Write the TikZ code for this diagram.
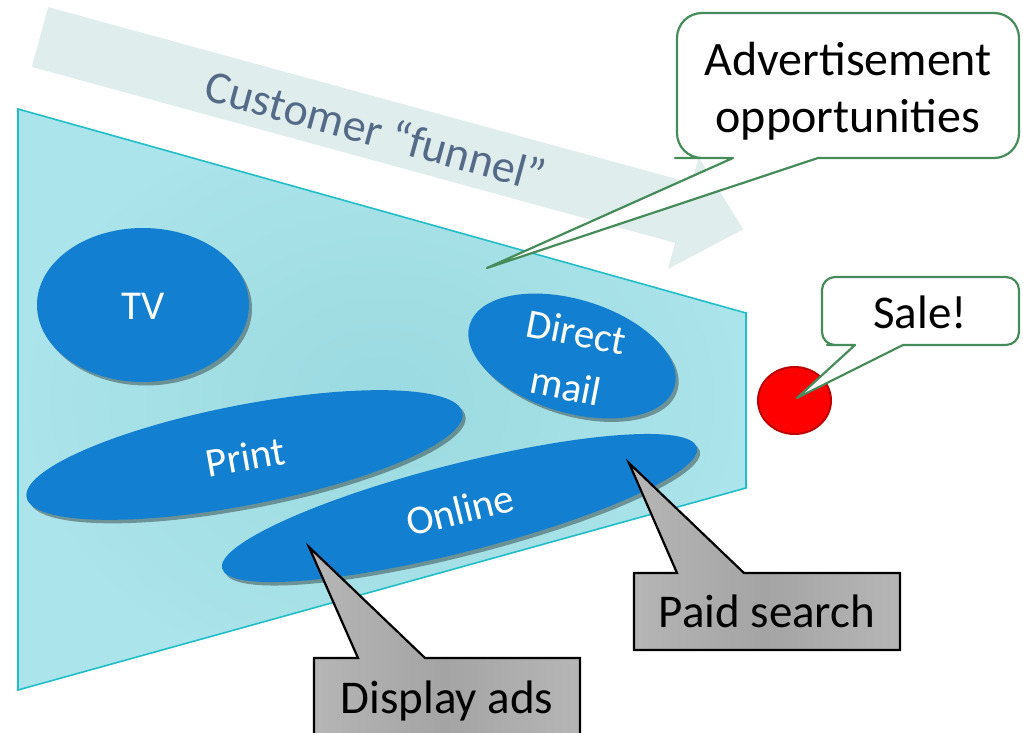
\documentclass[tikz,border=0pt]{standalone}
\usepackage{fontspec}
\setmainfont{Carlito}
\usetikzlibrary{shapes.geometric,shadows}
\definecolor{funnelin}{RGB}{154,218,224}
\definecolor{funnelout}{RGB}{171,228,234}
\definecolor{funneledge}{RGB}{34,190,200}
\definecolor{bandcol}{RGB}{224,237,237}
\definecolor{bandtext}{RGB}{84,106,135}
\definecolor{blobblue}{RGB}{18,127,208}
\definecolor{calloutgreen}{RGB}{70,140,90}
\definecolor{greylight}{RGB}{182,182,182}
\definecolor{greydark}{RGB}{164,164,164}
\definecolor{dotred}{RGB}{255,0,0}
\definecolor{dotedge}{RGB}{190,0,0}
\begin{document}
\begin{tikzpicture}[x=1pt,y=-1pt,
  blob/.style={ellipse, fill=blobblue, inner sep=0pt,
    drop shadow={shadow xshift=3pt, shadow yshift=-3.5pt, opacity=0.35, fill=black}},
  blobtext/.style={text=white, inner sep=0pt, align=center, font=\fontsize{41}{55}\selectfont},
  greencallout/.style={draw=calloutgreen, line width=2.2pt, fill=white, line join=round},
  greycallout/.style={draw=black, line width=2.2pt, line join=miter,
    left color=greylight, right color=greylight, middle color=greydark},
  callouttext/.style={text=black, inner sep=0pt, align=center, font=\fontsize{47}{57}\selectfont}
]
\clip (0,0) rectangle (1023,733);
\fill[white] (0,0) rectangle (1023,733);

% customer funnel band arrow
\begin{scope}[shift={(40,37)}, rotate=-15.3]
  \fill[bandcol] (0,-31) -- (667,-31) -- (667,-58) -- (729,0) -- (667,58) -- (667,31) -- (0,31) -- cycle;
\end{scope}
\node[text=bandtext, rotate=-15.3, inner sep=0pt, font=\fontsize{46}{55}\selectfont] (band) at (376,130) {Customer “funnel”};

% funnel
\draw[funneledge, line width=1.6pt, inner color=funnelin, outer color=funnelout]
  (18,109) -- (746,313) -- (746,488) -- (18,690) -- cycle;

% channel ellipses
\node[blob, minimum width=212pt, minimum height=154pt] (tv) at (143,305) {};
\node[blobtext] (tvtext) at (143,306) {TV};
\node[blob, minimum width=444pt, minimum height=100pt, rotate=11] (print) at (244.5,455) {};
\node[blobtext, rotate=10] (printtext) at (245,457) {Print};
\node[blob, minimum width=214pt, minimum height=113pt, rotate=-17] (dm) at (572,356) {};
\node[blobtext, rotate=-11] (dmtext) at (571,359) {Direct\\mail};
\node[blob, minimum width=490pt, minimum height=88pt, rotate=14.3] (online) at (459.5,508) {};
\node[blobtext, rotate=14] (onlinetext) at (460,510) {Online};

% sale dot
\node[ellipse, fill=dotred, draw=dotedge, line width=2pt, minimum width=73pt, minimum height=67pt, inner sep=0pt] (dot) at (794.5,400.5) {};

% pointer tips
\coordinate (advtip) at (487,268);
\coordinate (saletip) at (797,398);
\coordinate (displaytip) at (309,547);
\coordinate (paidtip) at (629,463);

% advertisement callout
\draw[greencallout] (733,158) -- (advtip) -- (818,158) -- (900,158)
  [rounded corners=25pt] -- (1019,158) -- (1019,13) -- (677,13) -- (677,158) -- (700,158)
  [sharp corners] -- cycle;
\node[callouttext, font=\fontsize{48}{57}\selectfont] (adv) at (848,91) {Advertisement\\opportunities};

% sale callout
\draw[greencallout] (855,345) -- (saletip) -- (903,345) -- (960,345)
  [rounded corners=13pt] -- (1019,345) -- (1019,277) -- (822,277) -- (822,345) -- (840,345)
  [sharp corners] -- cycle;
\node[callouttext] (sale) at (920,312) {Sale!};

% paid search callout
\draw[greycallout] (677,573) -- (paidtip) -- (744,573) -- (900,573) -- (900,650) -- (634,650) -- (634,573) -- cycle;
\node[callouttext] (paid) at (767,611) {Paid search};

% display ads callout
\draw[greycallout] (358,658) -- (displaytip) -- (425,658) -- (580,658) -- (580,745) -- (314,745) -- (314,658) -- cycle;
\node[callouttext] (display) at (447,701) {Display ads};
\end{tikzpicture}
\end{document}
